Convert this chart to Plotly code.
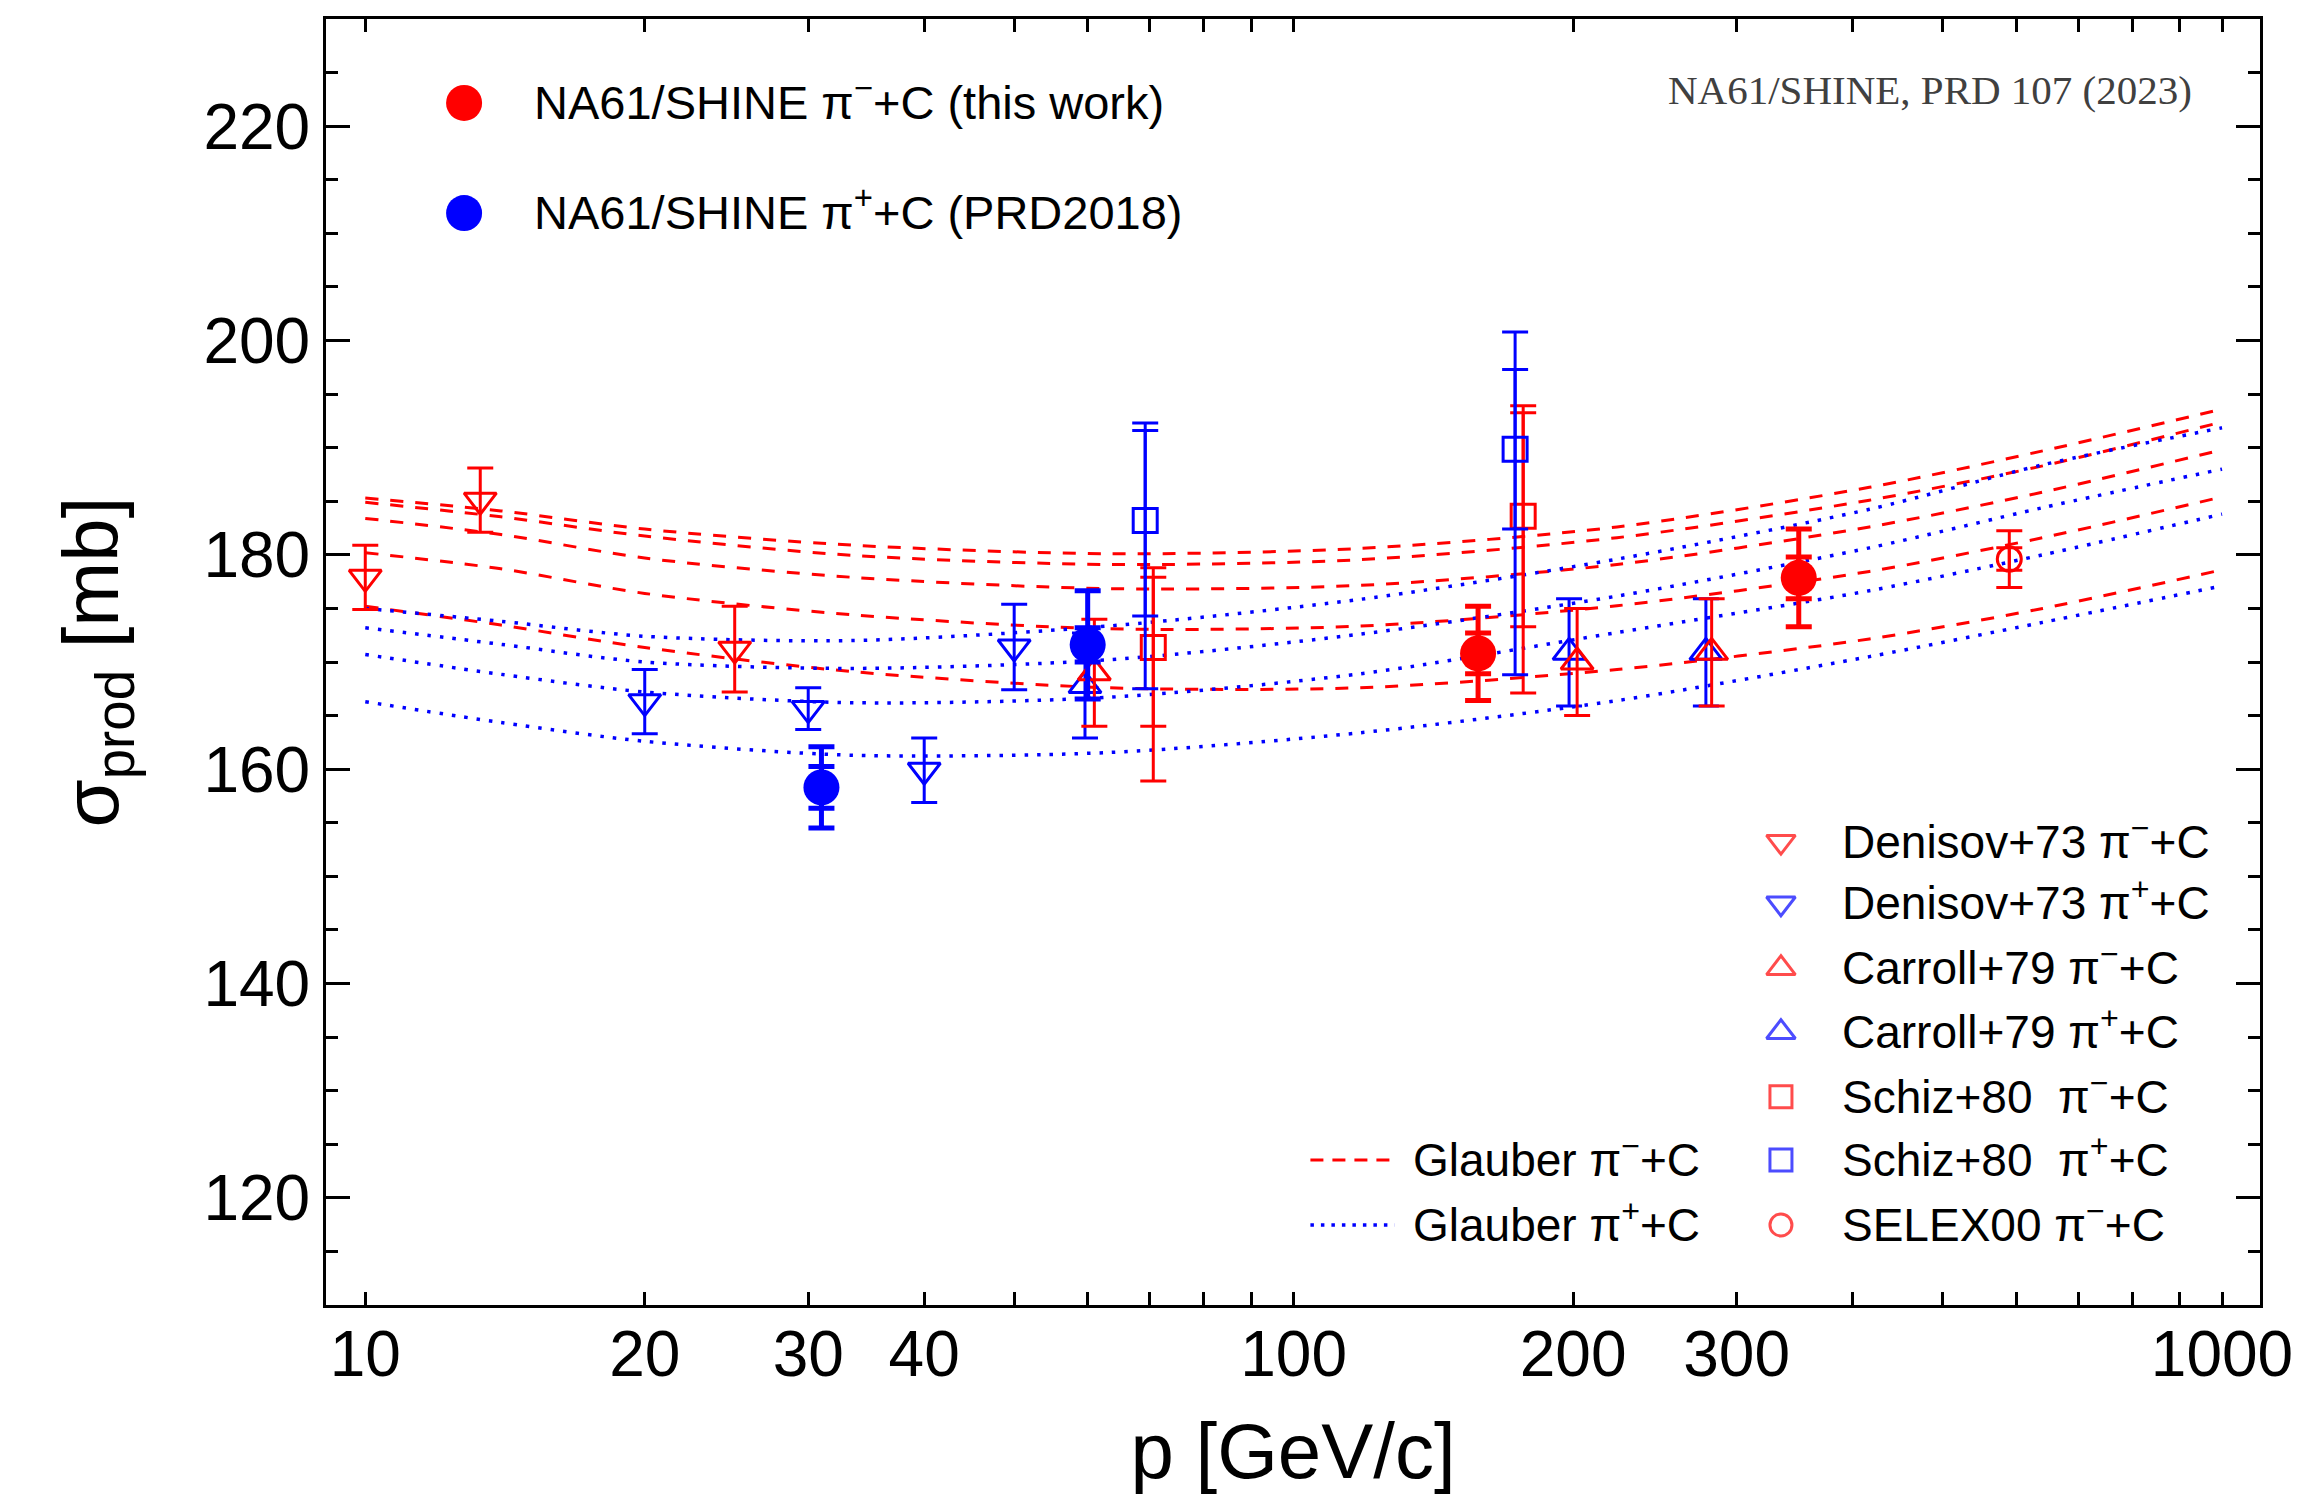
import plotly.graph_objects as go

RED = "#ff0000"
BLUE = "#0000ff"
SANS = "Liberation Sans, Arial, Helvetica, sans-serif"
SERIF = "Liberation Serif, Times New Roman, serif"

# ---------------- data: production cross sections [mb] vs beam momentum [GeV/c]
# NA61/SHINE pi- + C (this work): stat and total uncertainties
na61_pim_p = [158, 350]
na61_pim_sigma = [170.8, 177.85]
na61_pim_stat = [1.9, 1.95]
na61_pim_tot = [4.4, 4.55]

# NA61/SHINE pi+ + C (PRD 2018)
na61_pip_p = [31, 60]
na61_pip_sigma = [158.3, 171.6]
na61_pip_stat = [1.95, 1.6]
na61_pip_tot = [3.8, 5.05]

# Denisov et al. 1973
den_pim_p = [10, 13.3, 25]
den_pim_sigma = [177.9, 185.1, 171.2]
den_pim_err = [3.0, 3.0, 4.0]

den_pip_p = [20, 30, 40, 50]
den_pip_sigma = [166.3, 165.65, 159.9, 171.4]
den_pip_err = [3.0, 1.95, 3.0, 4.0]

# Carroll et al. 1979
car_pim_p = [61, 202, 282]
car_pim_sigma = [169.0, 170.0, 170.9]
car_pim_err = [5.0, 5.0, 5.0]

car_pip_p = [59.6, 198, 278]
car_pip_sigma = [167.8, 170.9, 170.9]
car_pip_err = [4.9, 5.0, 5.0]

# Schiz et al. 1980 (two uncertainty components, second one asymmetric)
schiz_pim_p = [70.6, 176.7]
schiz_pim_sigma = [171.35, 183.6]
schiz_pim_err_a_up = [7.45, 10.3]
schiz_pim_err_a_dn = [7.35, 10.3]
schiz_pim_err_b_up = [6.55, 9.65]
schiz_pim_err_b_dn = [12.45, 16.5]

schiz_pip_p = [69.2, 173.2]
schiz_pip_sigma = [183.2, 189.85]
schiz_pip_err_a_up = [8.4, 7.45]
schiz_pip_err_a_dn = [8.9, 7.45]
schiz_pip_err_b_up = [9.1, 10.95]
schiz_pip_err_b_dn = [15.7, 21.05]

# SELEX 2000
selex_p = [590]
selex_sigma = [179.6]
selex_err_in = [1.05]
selex_err_out = [2.65]

# Glauber model predictions
glauber_p = [10, 14, 20, 33.5, 63, 118, 223, 417, 641, 1000]
glauber_pim_1 = [185.3, 184.1, 182.4, 180.9, 180.1, 180.6, 182.6, 186.3, 189.7, 193.6]
glauber_pim_2 = [184.9, 183.55, 181.75, 179.95, 179.1, 179.55, 181.6, 185.1, 188.3, 192.4]
glauber_pim_3 = [183.4, 181.9, 179.7, 177.9, 176.85, 177.15, 179.1, 182.6, 185.85, 189.8]
glauber_pim_4 = [180.2, 178.7, 176.4, 174.4, 173.1, 173.35, 175.25, 178.45, 181.6, 185.4]
glauber_pim_5 = [175.2, 173.45, 171.35, 169.1, 167.6, 167.6, 169.3, 172.15, 175.0, 178.6]
glauber_pip_1 = [175.0, 173.8, 172.4, 172.0, 173.35, 175.85, 179.6, 184.25, 188.4, 191.85]
glauber_pip_2 = [173.2, 171.65, 170.0, 169.4, 170.2, 172.6, 176.15, 180.65, 184.4, 188.0]
glauber_pip_3 = [170.7, 168.85, 167.2, 166.2, 166.7, 168.9, 172.75, 176.65, 180.0, 183.8]
glauber_pip_4 = [166.3, 164.35, 162.6, 161.3, 161.55, 163.4, 166.4, 170.5, 173.7, 177.1]

# axis ticks
x_tick_vals = [10, 20, 30, 40, 50, 60, 70, 80, 90,
               100, 200, 300, 400, 500, 600, 700, 800, 900, 1000]
x_tick_labels = ["10", "20", "30", "40", "", "", "", "", "",
                 "100", "200", "300", "", "", "", "", "", "", "1000"]
x_decade_vals = [10, 100, 1000]
y_tick_vals = [120, 140, 160, 180, 200, 220]
y_tick_labels = ["120", "140", "160", "180", "200", "220"]

fig = go.Figure()

# ---------------- Glauber curves
for s in [glauber_pim_1, glauber_pim_2, glauber_pim_3, glauber_pim_4, glauber_pim_5]:
    fig.add_trace(go.Scatter(x=glauber_p, y=s, mode="lines",
                             line=dict(color=RED, width=3, dash="13px,12px",
                                       shape="spline", smoothing=0.8),
                             hoverinfo="skip"))
for s in [glauber_pip_1, glauber_pip_2, glauber_pip_3, glauber_pip_4]:
    fig.add_trace(go.Scatter(x=glauber_p, y=s, mode="lines",
                             line=dict(color=BLUE, width=3.5, dash="3.5px,9px",
                                       shape="spline", smoothing=0.8),
                             hoverinfo="skip"))


def err(up, dn, color, thick=3, width=13):
    return dict(type="data", symmetric=False, array=up, arrayminus=dn,
                color=color, thickness=thick, width=width)


def points(p, s, up, dn, color, symbol, size=28, lw=3, thick=3, show_marker=True):
    if show_marker:
        marker = dict(symbol=symbol, size=size, color=color,
                      line=dict(color=color, width=lw))
    else:
        marker = dict(size=1, opacity=0, color=color)
    fig.add_trace(go.Scatter(x=p, y=s, mode="markers", marker=marker,
                             error_y=err(up, dn, color, thick), hoverinfo="skip"))


# ---------------- older measurements (open markers)
points(den_pim_p, den_pim_sigma, den_pim_err, den_pim_err, RED, "triangle-down-open")
points(den_pip_p, den_pip_sigma, den_pip_err, den_pip_err, BLUE, "triangle-down-open")
points(car_pip_p, car_pip_sigma, car_pip_err, car_pip_err, BLUE, "triangle-up-open")
points(car_pim_p, car_pim_sigma, car_pim_err, car_pim_err, RED, "triangle-up-open")

points(schiz_pim_p, schiz_pim_sigma, schiz_pim_err_b_up, schiz_pim_err_b_dn, RED, None,
       show_marker=False)
points(schiz_pim_p, schiz_pim_sigma, schiz_pim_err_a_up, schiz_pim_err_a_dn, RED,
       "square-open", size=24)
points(schiz_pip_p, schiz_pip_sigma, schiz_pip_err_b_up, schiz_pip_err_b_dn, BLUE, None,
       show_marker=False)
points(schiz_pip_p, schiz_pip_sigma, schiz_pip_err_a_up, schiz_pip_err_a_dn, BLUE,
       "square-open", size=24)

points(selex_p, selex_sigma, selex_err_out, selex_err_out, RED, None, show_marker=False)
points(selex_p, selex_sigma, selex_err_in, selex_err_in, RED, "circle-open", size=24)

# ---------------- NA61/SHINE (filled circles, stat + total)
points(na61_pip_p, na61_pip_sigma, na61_pip_stat, na61_pip_stat, BLUE, None,
       thick=5, show_marker=False)
points(na61_pip_p, na61_pip_sigma, na61_pip_tot, na61_pip_tot, BLUE, "circle",
       size=36, lw=0, thick=5)
points(na61_pim_p, na61_pim_sigma, na61_pim_stat, na61_pim_stat, RED, None,
       thick=5, show_marker=False)
points(na61_pim_p, na61_pim_sigma, na61_pim_tot, na61_pim_tot, RED, "circle",
       size=36, lw=0, thick=5)

# ---------------- legend glyphs (drawn in an overlay frame spanning the plot area)
leg_big_x = 0.0714
leg_big_y = [0.9347, 0.8491]
fig.add_trace(go.Scatter(x=[leg_big_x] * 2, y=leg_big_y, mode="markers",
                         marker=dict(symbol="circle", size=36, color=[RED, BLUE]),
                         xaxis="x2", yaxis="y2", hoverinfo="skip"))

leg_x = 0.7523
leg_rows = [0.3603, 0.3124, 0.2618, 0.2121, 0.1620, 0.1128, 0.0622]
leg_symbols = ["triangle-down-open", "triangle-down-open", "triangle-up-open",
               "triangle-up-open", "square-open", "square-open", "circle-open"]
leg_sizes = [25, 25, 25, 25, 22, 22, 22]
leg_colors = [RED, BLUE, RED, BLUE, RED, BLUE, RED]
fig.add_trace(go.Scatter(x=[leg_x] * 7, y=leg_rows, mode="markers",
                         marker=dict(symbol=leg_symbols, size=leg_sizes, color=leg_colors,
                                     line=dict(color=leg_colors, width=3)),
                         xaxis="x2", yaxis="y2", hoverinfo="skip"))

fig.add_trace(go.Scatter(x=[0.5090, 0.5525], y=[leg_rows[5]] * 2, mode="lines",
                         line=dict(color=RED, width=3, dash="13px,9px"),
                         xaxis="x2", yaxis="y2", hoverinfo="skip"))
fig.add_trace(go.Scatter(x=[0.5090, 0.5525], y=[leg_rows[6]] * 2, mode="lines",
                         line=dict(color=BLUE, width=3.5, dash="3.5px,7px"),
                         xaxis="x2", yaxis="y2", hoverinfo="skip"))

annotations = []


def label(x, y, text, size=46, font=SANS, color="black", anchor="left"):
    annotations.append(dict(x=x, y=y, xref="paper", yref="paper", text=text,
                            showarrow=False, xanchor=anchor, yanchor="middle",
                            font=dict(size=size, family=font, color=color)))


label(0.1065, leg_big_y[0] + 0.003, "NA61/SHINE π<sup>−</sup>+C (this work)", size=47)
label(0.1065, leg_big_y[1] + 0.003, "NA61/SHINE π<sup>+</sup>+C (PRD2018)", size=47)

leg_texts = ["Denisov+73 π<sup>−</sup>+C", "Denisov+73 π<sup>+</sup>+C",
             "Carroll+79 π<sup>−</sup>+C", "Carroll+79 π<sup>+</sup>+C",
             "Schiz+80\u00a0 π<sup>−</sup>+C", "Schiz+80\u00a0 π<sup>+</sup>+C",
             "SELEX00 π<sup>−</sup>+C"]
for yy, t in zip(leg_rows, leg_texts):
    label(0.7828, yy + 0.0022, t)
label(0.5612, leg_rows[5] + 0.0022, "Glauber π<sup>−</sup>+C")
label(0.5612, leg_rows[6] + 0.0022, "Glauber π<sup>+</sup>+C")

label(0.9659, 0.945, "NA61/SHINE, PRD 107 (2023)", size=41, font=SERIF,
      color="#404040", anchor="right")

x_range = [0.9577, 3.0409]
fig.update_layout(
    width=2304, height=1495,
    margin=dict(l=326, r=44, t=19, b=190),
    plot_bgcolor="white", paper_bgcolor="white",
    showlegend=False,
    annotations=annotations,
    xaxis=dict(type="log", range=x_range, tickmode="array",
               tickvals=x_tick_vals, ticktext=x_tick_labels,
               ticks="inside", ticklen=13, tickwidth=3, tickcolor="black",
               ticklabelstandoff=-9,
               showline=True, linecolor="black", linewidth=3, mirror="ticks",
               showgrid=False, zeroline=False,
               tickfont=dict(size=64, family=SANS, color="black"),
               title=dict(text="p [GeV/c]", standoff=38,
                          font=dict(size=78, family=SANS, color="black"))),
    xaxis3=dict(type="log", range=x_range, overlaying="x", anchor="y",
                tickmode="array", tickvals=x_decade_vals,
                ticks="inside", ticklen=28, tickwidth=3, tickcolor="black",
                showline=True, linecolor="black", linewidth=3, mirror="ticks",
                showticklabels=False, showgrid=False, zeroline=False),
    yaxis=dict(range=[110, 230], tickmode="array",
               tickvals=y_tick_vals, ticktext=y_tick_labels,
               ticks="inside", ticklen=24, tickwidth=3, tickcolor="black",
               minor=dict(dtick=5, tick0=0, ticks="inside", ticklen=12,
                          tickwidth=3, tickcolor="black"),
               showline=True, linecolor="black", linewidth=3, mirror="ticks",
               showgrid=False, zeroline=False,
               tickfont=dict(size=64, family=SANS, color="black"),
               title=dict(text="σ<sub>prod</sub> [mb]", standoff=60,
                          font=dict(size=78, family=SANS, color="black"))),
    xaxis2=dict(domain=[0, 1], range=[0, 1], overlaying="x", anchor="y2",
                visible=False),
    yaxis2=dict(domain=[0, 1], range=[0, 1], overlaying="y", anchor="x2",
                visible=False),
)

fig.write_html("out.html")
